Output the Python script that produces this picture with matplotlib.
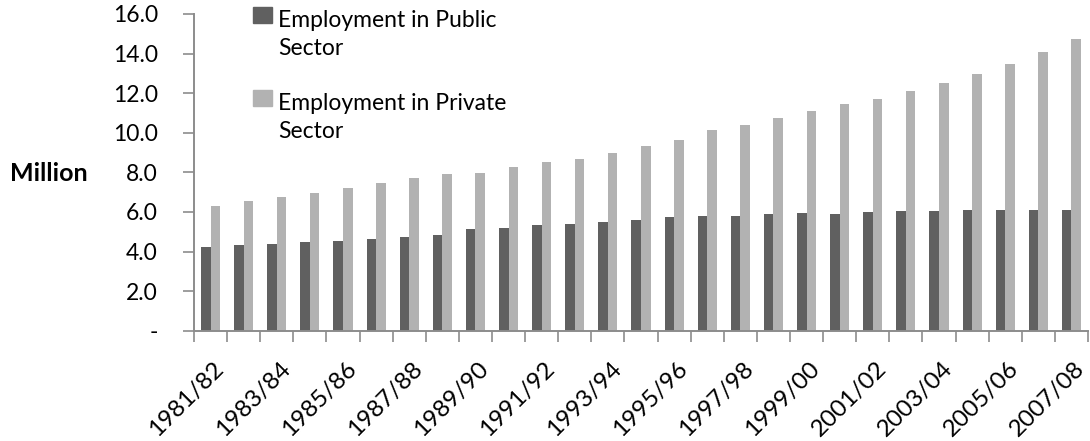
import numpy as np
import matplotlib
matplotlib.use('Agg')
import matplotlib.pyplot as plt
import matplotlib.transforms as mtransforms
from matplotlib.patches import Rectangle
from matplotlib.ticker import FixedLocator, FuncFormatter

plt.rcParams['font.family'] = ['Lato', 'DejaVu Sans']

# Years (financial years), 1981/82 .. 2007/08
years = ['%d/%02d' % (y, (y + 1) % 100) for y in range(1981, 2008)]

# Employment, million
public = [4.24, 4.31, 4.38, 4.46, 4.52, 4.62, 4.72, 4.85, 5.13,
          5.17, 5.32, 5.40, 5.51, 5.61, 5.73, 5.78, 5.81, 5.89,
          5.96, 5.91, 6.01, 6.03, 6.06, 6.11, 6.11, 6.11, 6.08]
private = [6.30, 6.53, 6.75, 6.95, 7.22, 7.45, 7.70, 7.90, 7.95,
           8.28, 8.50, 8.66, 8.99, 9.33, 9.65, 10.12, 10.40, 10.76,
           11.11, 11.45, 11.72, 12.11, 12.49, 12.96, 13.48, 14.06, 14.75]

labels = ['Employment in Public\nSector', 'Employment in Private\nSector']
colors = ['#606060', '#b2b2b2']
axis_color = '#8c8c8c'
fs = 16.5

W, H = 1090, 441
fig = plt.figure(figsize=(W / 100, H / 100), dpi=100)
ax = fig.add_axes([194 / W, 1 - 330.7 / H, 894 / W, 316.7 / H])

x = np.arange(len(years))
w = 0.29
ax.bar(x - w / 2, public, width=w, color=colors[0])
ax.bar(x + w / 2, private, width=w, color=colors[1])

ax.set_xlim(-0.5, len(years) - 0.5)
ax.set_ylim(0, 16)
ax.set_yticks(np.arange(0, 16.1, 2))
ax.yaxis.set_major_formatter(FuncFormatter(lambda v, p: '-' if v == 0 else '%.1f' % v))

# tick marks between categories, labels on every other category
ax.xaxis.set_major_locator(FixedLocator(x[::2]))
ax.set_xticklabels(years[::2], rotation=45, ha='right', va='center', rotation_mode='anchor')
ax.xaxis.set_minor_locator(FixedLocator(np.arange(-0.5, len(years), 1)))
ax.tick_params(axis='x', which='major', length=0, pad=25, labelsize=17.5)
ax.tick_params(axis='x', which='minor', length=8, color=axis_color, width=1.2)
ax.tick_params(axis='y', length=8, color=axis_color, width=1.2, labelsize=fs, pad=18)
shift = mtransforms.ScaledTranslation(10 / 100, 0, fig.dpi_scale_trans)
for lab in ax.get_xticklabels():
    lab.set_transform(lab.get_transform() + shift)

for s in ['top', 'right']:
    ax.spines[s].set_visible(False)
for s in ['left', 'bottom']:
    ax.spines[s].set_color(axis_color)
    ax.spines[s].set_linewidth(1.4)

fig.text(10 / W, 1 - 173 / H, 'Million', fontsize=18, fontweight='bold', ha='left', va='center')

# legend: square next to the first line of each two-line label
for i, (lab, c) in enumerate(zip(labels, colors)):
    top = 7 + i * 83
    fig.patches.append(Rectangle((253 / W, 1 - (top + 16) / H), 19 / W, 16 / H,
                                 transform=fig.transFigure, color=c))
    # baseline of the last line ("Sector")
    fig.text(278 / W, 1 - (top + 16 + 32) / H, lab, fontsize=fs, ha='left', va='baseline',
             linespacing=1.4)

fig.savefig('out.png', dpi=100)
